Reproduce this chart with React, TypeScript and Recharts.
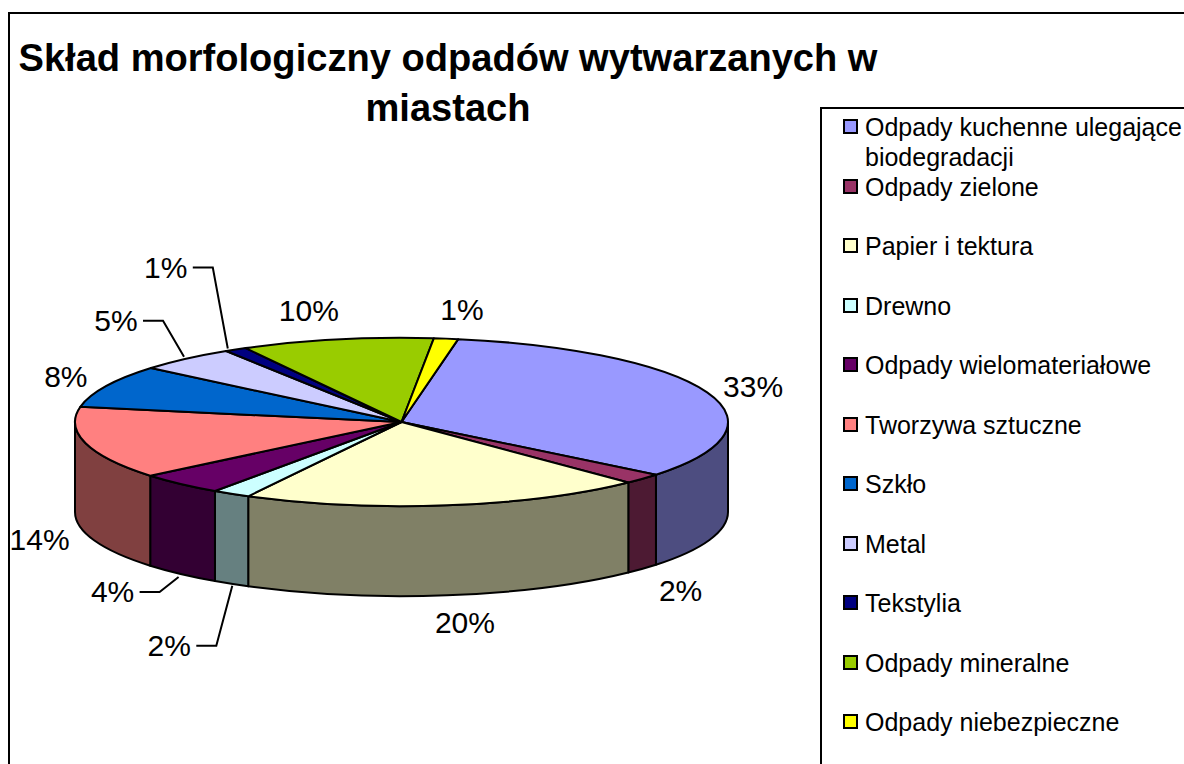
import React from 'react';
import { PieChart, Pie, Cell, Legend } from 'recharts';

const TITLE_LINES = ['Skład morfologiczny odpadów wytwarzanych w', 'miastach'];
const categories = [
  'Odpady kuchenne ulegające biodegradacji',
  'Odpady zielone',
  'Papier i tektura',
  'Drewno',
  'Odpady wielomateriałowe',
  'Tworzywa sztuczne',
  'Szkło',
  'Metal',
  'Tekstylia',
  'Odpady mineralne',
  'Odpady niebezpieczne',
];
const values = [33, 2, 20, 1.9, 4.3, 13.9, 8.2, 4.9, 1.1, 9.5, 1.2];
const fills = ['#9999FF', '#993366', '#FFFFCC', '#CCFFFF', '#660066', '#FF8080', '#0066CC', '#CCCCFF', '#000080', '#99CC00', '#FFFF00'];
const walls = ['#4D4D80', '#4D1A33', '#808066', '#668080', '#330033', '#804040', '#003366', '#666680', '#000040', '#4D6600', '#808000'];
const labelShift: [number, number][] = [
  [46, -6], [38, 112], [18, 117], [-62, 152], [-68, 108], [-46, 96], [-40, -10], [-70, -38], [-70, -82], [-28, -29], [16, -29],
];
const hasLeader = [false, false, false, true, true, false, false, true, true, false, false];
const leaderStartShift: [number, number][] = [
  [0, 0], [0, 0], [0, 0], [1, 2], [-2, 3], [0, 0], [0, 0], [-2, -2], [-8, -1], [0, 0], [0, 0],
];

const data = categories.map((name, i) => ({ name, value: values[i] }));

const SQUASH = 84 / 326;
const DEPTH = 90;
const RAD = Math.PI / 180;

const rimPoint = (cx: number, cy: number, r: number, deg: number) => ({
  x: cx + r * Math.cos(deg * RAD),
  y: cy - r * SQUASH * Math.sin(deg * RAD),
});

const Slice3D = (props: any) => {
  const { cx, cy, outerRadius: r, startAngle, endAngle, index, fill } = props;
  const rx = r;
  const ry = r * SQUASH;
  const a = Math.max(startAngle, endAngle);
  const b = Math.min(startAngle, endAngle);
  const p0 = rimPoint(cx, cy, r, a);
  const p1 = rimPoint(cx, cy, r, b);
  const large = a - b > 180 ? 1 : 0;
  const top = `M${cx},${cy} L${p0.x},${p0.y} A${rx},${ry} 0 ${large} 1 ${p1.x},${p1.y} Z`;

  // the visible side wall is the part of the slice on the front half (below the centre line)
  const frontRanges: [number, number][] = [];
  for (const k of [0, -1, 1]) {
    const hi = Math.min(a, 360 + 360 * k);
    const lo = Math.max(b, 180 + 360 * k);
    if (hi > lo) frontRanges.push([hi, lo]);
  }
  const wallPaths = frontRanges.map(([hi, lo]) => {
    const w0 = rimPoint(cx, cy, r, hi);
    const w1 = rimPoint(cx, cy, r, lo);
    return `M${w0.x},${w0.y} A${rx},${ry} 0 0 1 ${w1.x},${w1.y} L${w1.x},${w1.y + DEPTH} A${rx},${ry} 0 0 0 ${w0.x},${w0.y + DEPTH} Z`;
  });
  return (
    <g>
      {wallPaths.map((d, i) => (
        <path key={i} d={d} fill={walls[index ?? 0]} stroke="#000" strokeWidth={2} strokeLinejoin="round" />
      ))}
      <path d={top} fill={fill} stroke="#000" strokeWidth={2} strokeLinejoin="round" />
    </g>
  );
};

const SliceLabel = (props: any) => {
  const { cx, cy, outerRadius, midAngle, percent, index } = props;
  const rim = rimPoint(cx, cy, outerRadius, midAngle);
  const [dx, dy] = labelShift[index];
  const lx = rim.x + dx;
  const ly = rim.y + dy;
  const isFront = Math.sin(midAngle * RAD) < 0;
  const [sx, sy] = leaderStartShift[index];
  return (
    <g>
      {hasLeader[index] && (
        <polyline
          points={`${rim.x + sx},${rim.y + sy + (isFront ? DEPTH : 0)} ${lx + 47},${ly} ${lx + 27},${ly}`}
          fill="none"
          stroke="#000"
          strokeWidth={2}
        />
      )}
      <text x={lx} y={ly} textAnchor="middle" dominantBaseline="central" fontSize={30} fontFamily="'Liberation Sans', Arial, sans-serif" fill="#000">
        {`${Math.round(percent * 100)}%`}
      </text>
    </g>
  );
};

const LegendBox = (props: any) => {
  const items = props.payload ?? [];
  return (
    <div style={{ boxSizing: 'border-box', width: 364, height: 657, borderLeft: '2px solid #000', borderTop: '2px solid #000', background: '#fff', fontFamily: "'Liberation Sans', Arial, sans-serif", fontSize: 25, color: '#000', paddingTop: 3, lineHeight: '30px' }}>
      {items.map((it: any, i: number) => (
        <div key={i} style={{ position: 'relative', paddingLeft: 43, width: 362, boxSizing: 'border-box', height: 59.5 }}>
          <span style={{ position: 'absolute', left: 21, top: 7, width: 15, height: 15, boxSizing: 'border-box', border: '2px solid #000', background: it.color }} />
          {it.value}
        </div>
      ))}
    </div>
  );
};

export default function App() {
  return (
    <div style={{ position: 'absolute', left: 0, top: 0, width: 1184, height: 764, overflow: 'hidden', background: '#fff' }}>
      <PieChart width={1184} height={764} margin={{ top: 0, right: 0, bottom: 0, left: 0 }}>
        <rect x={9} y={13} width={1400} height={1000} fill="none" stroke="#000" strokeWidth={2} />
        {TITLE_LINES.map((t, i) => (
          <text key={t} x={448} y={71 + i * 49.5} textAnchor="middle" fontSize={38.1} fontWeight="bold" fontFamily="'Liberation Sans', Arial, sans-serif" fill="#000">
            {t}
          </text>
        ))}
        <Pie
          data={data}
          dataKey="value"
          nameKey="name"
          cx={401.5}
          cy={422}
          outerRadius={326.5}
          startAngle={80}
          endAngle={-280}
          paddingAngle={0}
          stroke="#000"
          shape={Slice3D}
          label={SliceLabel}
          labelLine={false}
          isAnimationActive={false}
        >
          {categories.map((c, i) => (
            <Cell key={c} fill={fills[i]} />
          ))}
        </Pie>
        <Legend content={LegendBox} layout="vertical" itemSorter={null} wrapperStyle={{ position: 'absolute', left: 820, top: 107, width: 364, height: 657 }} />
      </PieChart>
    </div>
  );
}
